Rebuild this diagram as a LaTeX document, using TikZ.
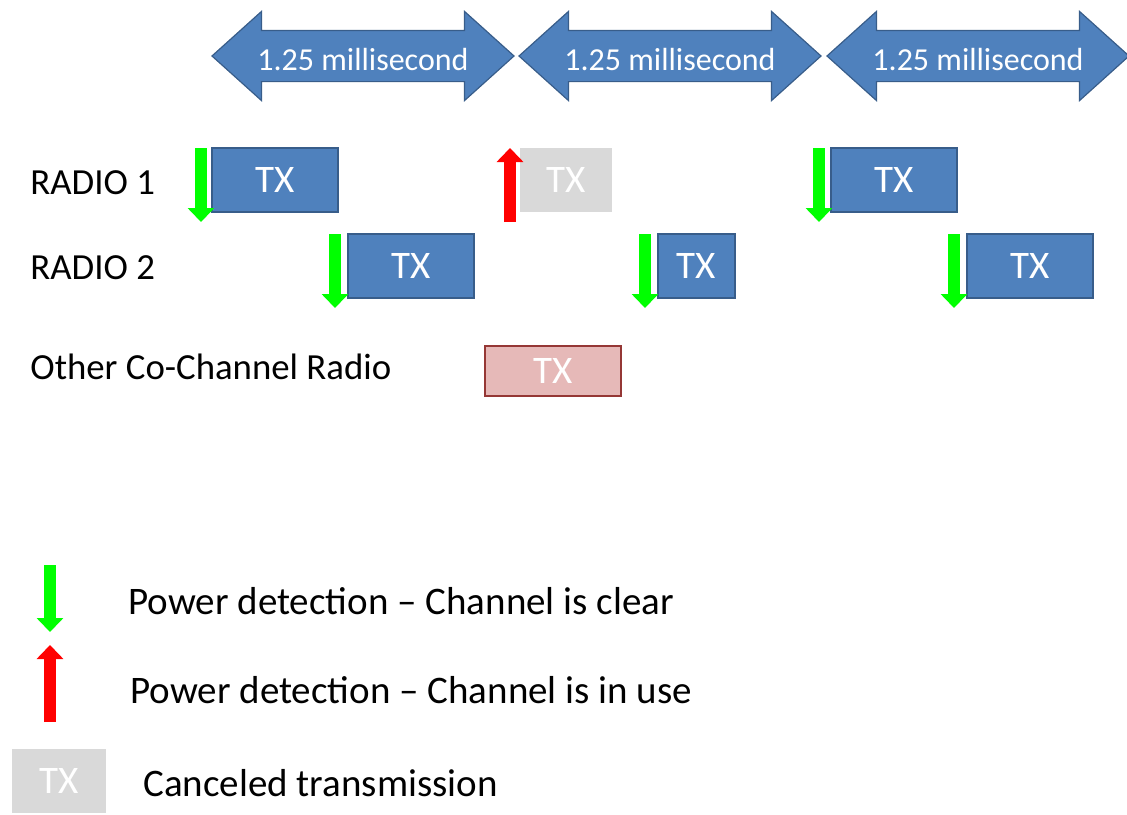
\documentclass[tikz,border=0pt]{standalone}
\usepackage{fontspec}
\setmainfont{Carlito}
\usetikzlibrary{shapes.arrows,arrows.meta}

\definecolor{txblue}{HTML}{4F81BD}
\definecolor{txedge}{HTML}{385D8A}
\definecolor{clrgreen}{HTML}{00FF00}
\definecolor{otherfill}{HTML}{E6B9B8}
\definecolor{otheredge}{HTML}{953735}
\definecolor{cancelgray}{HTML}{D9D9D9}

\tikzset{
	period/.style={double arrow, fill=txblue, draw=txedge, line width=0.6pt, text=white,
		font=\fontsize{16}{16}\selectfont, minimum height=151pt, minimum width=44pt,
		double arrow head extend=9.5pt, double arrow tip angle=84, inner xsep=0pt,
		inner ysep=0pt, text height=19.5pt, text depth=5.5pt},
	txbox/.style={rectangle, fill=txblue, draw=txedge, line width=1pt, text=white,
		font=\fontsize{19.5}{19.5}\selectfont, minimum height=32pt, inner sep=0pt},
	cancelbox/.style={txbox, fill=cancelgray, draw=none},
	otherbox/.style={txbox, fill=otherfill, draw=otheredge, line width=1.4pt, minimum height=25pt},
	rowlabel/.style={anchor=west, font=\fontsize{18.4}{18.4}\selectfont, inner sep=0pt},
	keylabel/.style={rowlabel, font=\fontsize{19.5}{19.5}\selectfont},
	clear/.style={draw=clrgreen, line width=6pt, -{Triangle[width=13pt,length=7pt]}},
	inuse/.style={draw=red, line width=6pt, -{Triangle[width=13pt,length=7pt]}}
}

\begin{document}
\begin{tikzpicture}[x=0.5pt, y=-0.5pt]
	\useasboundingbox (0,0) rectangle (1127,814);
	% time slots
	\node[period] (slotA) at (363,56) {1.25 millisecond};
	\node[period] (slotB) at (670,56) {1.25 millisecond};
	\node[period] (slotC) at (978,56) {1.25 millisecond};
	% rows
	\node[rowlabel] (radioA) at (30,183) {RADIO 1};
	\node[rowlabel] (radioB) at (30,268) {RADIO 2};
	\node[rowlabel] (other) at (30,367) {Other Co-Channel Radio};
	% radio 1
	\node[txbox, minimum width=63pt] (txA1) at (275,180) {TX};
	\node[cancelbox, minimum width=46pt] (txA2) at (566,180) {TX};
	\node[txbox, minimum width=63pt] (txA3) at (894,180) {TX};
	\coordinate (senseA1) at (201,148);
	\coordinate (senseA2) at (510,222);
	\coordinate (senseA3) at (819,148);
	\draw[clear] (senseA1) -- ++(0,74);
	\draw[inuse] (senseA2) -- ++(0,-74);
	\draw[clear] (senseA3) -- ++(0,74);
	% radio 2
	\node[txbox, minimum width=63pt] (txB1) at (411,266) {TX};
	\node[txbox, minimum width=38.5pt] (txB2) at (696,266) {TX};
	\node[txbox, minimum width=63pt] (txB3) at (1030,266) {TX};
	\coordinate (senseB1) at (335,234);
	\coordinate (senseB2) at (645,234);
	\coordinate (senseB3) at (954,234);
	\draw[clear] (senseB1) -- ++(0,74);
	\draw[clear] (senseB2) -- ++(0,74);
	\draw[clear] (senseB3) -- ++(0,74);
	% other radio
	\node[otherbox, minimum width=68pt] (txO) at (553,371) {TX};
	% legend
	\coordinate (keyclear) at (50,565);
	\coordinate (keyuse) at (50,722);
	\draw[clear] (keyclear) -- ++(0,67);
	\draw[inuse] (keyuse) -- ++(0,-77);
	\node[keylabel] (keyA) at (128,601) {Power detection -- Channel is clear};
	\node[keylabel] (keyB) at (130,690) {Power detection -- Channel is in use};
	\node[cancelbox, minimum width=47pt] (keyC) at (59,781) {TX};
	\node[keylabel] (keyCtext) at (143,783) {Canceled transmission};
\end{tikzpicture}
\end{document}
